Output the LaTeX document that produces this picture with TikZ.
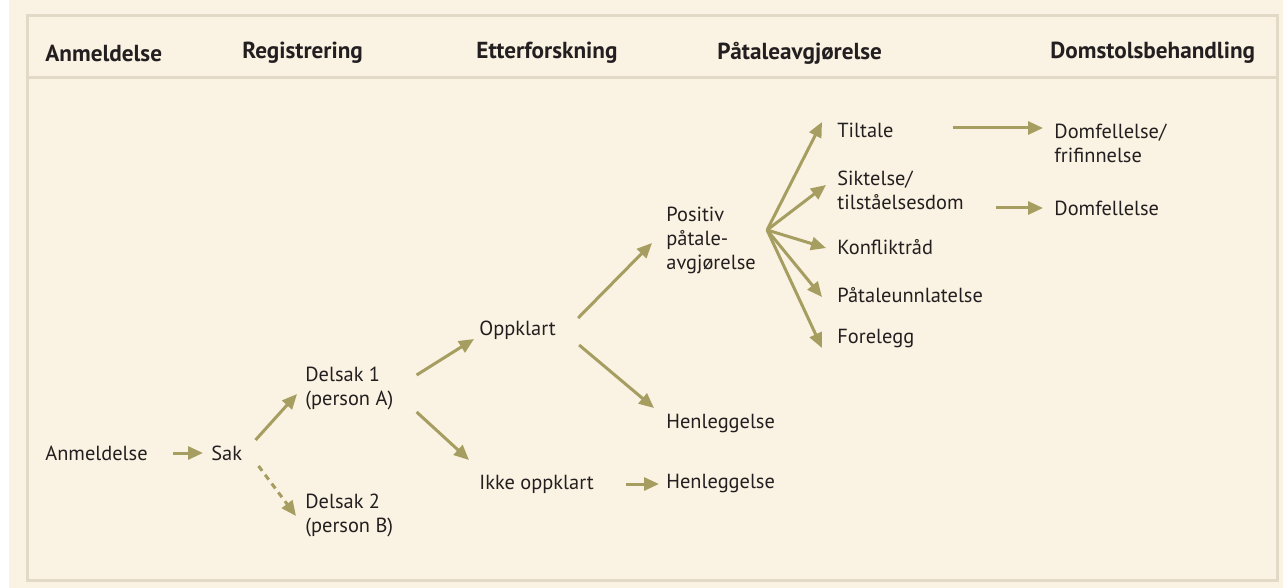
\documentclass[tikz,border=0pt]{standalone}
\usepackage{fontspec}
\setmainfont{PT Sans}
\usetikzlibrary{arrows.meta,positioning}
\definecolor{cream}{RGB}{250,242,226}
\definecolor{framecol}{RGB}{226,218,198}
\definecolor{olive}{RGB}{166,157,96}
\definecolor{ink}{RGB}{35,31,32}
\tikzset{
  flow/.style={draw=olive, line width=1.5pt, -{Triangle[length=7.5pt,width=6.5pt]}},
  lbl/.style={anchor=west, inner sep=0pt, align=left, text=ink, font=\fontsize{10.2}{12}\selectfont},
  head/.style={lbl, font=\fontsize{11.6}{13}\selectfont\bfseries}
}
\begin{document}
\begin{tikzpicture}[x=0.5pt, y=-0.5pt]
  \useasboundingbox (0,0) rectangle (1283,588);
  \fill[white] (0,0) rectangle (9,588);
  \fill[cream] (9,0) rectangle (1283,588);
  \draw[framecol, line width=1.5pt] (27,16) rectangle (1277,580);
  \draw[framecol, line width=1.5pt] (27,78) -- (1277,78);
  % column heads
  \node[head] (h1) at (45,53) {Anmeldelse};
  \node[head] (h2) at (242,53) {Registrering};
  \node[head] (h3) at (476,53) {Etterforskning};
  \node[head] (h4) at (717,53) {Påtaleavgjørelse};
  \node[head] (h5) at (1050,53) {Domstolsbehandling};
  % steps
  \node[lbl] (anm) at (45,453) {Anmeldelse};
  \node[lbl] (sak) at (211,453) {Sak};
  \node[lbl] (delsak1) at (305,388) {Delsak 1\\(person A)};
  \node[lbl] (delsak2) at (305,515) {Delsak 2\\(person B)};
  \node[lbl] (oppklart) at (479,330) {Oppklart};
  \node[lbl] (ikke) at (479,484) {Ikke oppklart};
  \node[lbl] (positiv) at (666,240) {Positiv\\påtale-\\avgjørelse};
  \node[lbl] (henl1) at (666,424) {Henleggelse};
  \node[lbl] (henl2) at (666,484) {Henleggelse};
  \node[lbl] (tiltale) at (837,130) {Tiltale};
  \node[lbl] (siktelse) at (837,190) {Siktelse/\\tilståelsesdom};
  \node[lbl] (konflikt) at (837,247) {Konfliktråd};
  \node[lbl] (unnlat) at (837,295) {Påtaleunnlatelse};
  \node[lbl] (forelegg) at (837,339) {Forelegg};
  \node[lbl] (domfri) at (1054,143) {Domfellelse/\\frifinnelse};
  \node[lbl] (domf) at (1054,208) {Domfellelse};
  \coordinate (fan) at ([shift={(11,-10)}]positiv.east);
  % connectors
  \draw[flow] ([shift={(25,0)}]anm.east) -- ([shift={(-8,0)}]sak.west);
  \draw[flow] ([shift={(13,-13)}]sak.east) -- ([shift={(-8,6)}]delsak1.west);
  \draw[flow, dash pattern=on 3pt off 2.5pt] ([shift={(16,13)}]sak.east) -- ([shift={(-9,1)}]delsak2.west);
  \draw[flow] ([shift={(23,-13)}]delsak1.east) -- ([shift={(-5,9)}]oppklart.west);
  \draw[flow] ([shift={(23,24)}]delsak1.east) -- ([shift={(-10,-24)}]ikke.west);
  \draw[flow] ([shift={(22,-12)}]oppklart.east) -- ([shift={(-14,3)}]positiv.west);
  \draw[flow] ([shift={(23,15)}]oppklart.east) -- ([shift={(-12,-16)}]henl1.west);
  \draw[flow] ([shift={(32,0)}]ikke.east) -- ([shift={(-7,0)}]henl2.west);
  \draw[flow] (fan) -- ([shift={(-15,-8)}]tiltale.west);
  \draw[flow] (fan) -- ([shift={(-11,-5)}]siktelse.west);
  \draw[flow] (fan) -- ([shift={(-11,1)}]konflikt.west);
  \draw[flow] (fan) -- ([shift={(-15,2)}]unnlat.west);
  \draw[flow] (fan) -- ([shift={(-15,9)}]forelegg.west);
  \draw[flow] ([shift={(59,-2)}]tiltale.east) -- ([shift={(-11,-15)}]domfri.west);
  \draw[flow] ([shift={(32,18)}]siktelse.east) -- ([shift={(-11,0)}]domf.west);
\end{tikzpicture}
\end{document}
